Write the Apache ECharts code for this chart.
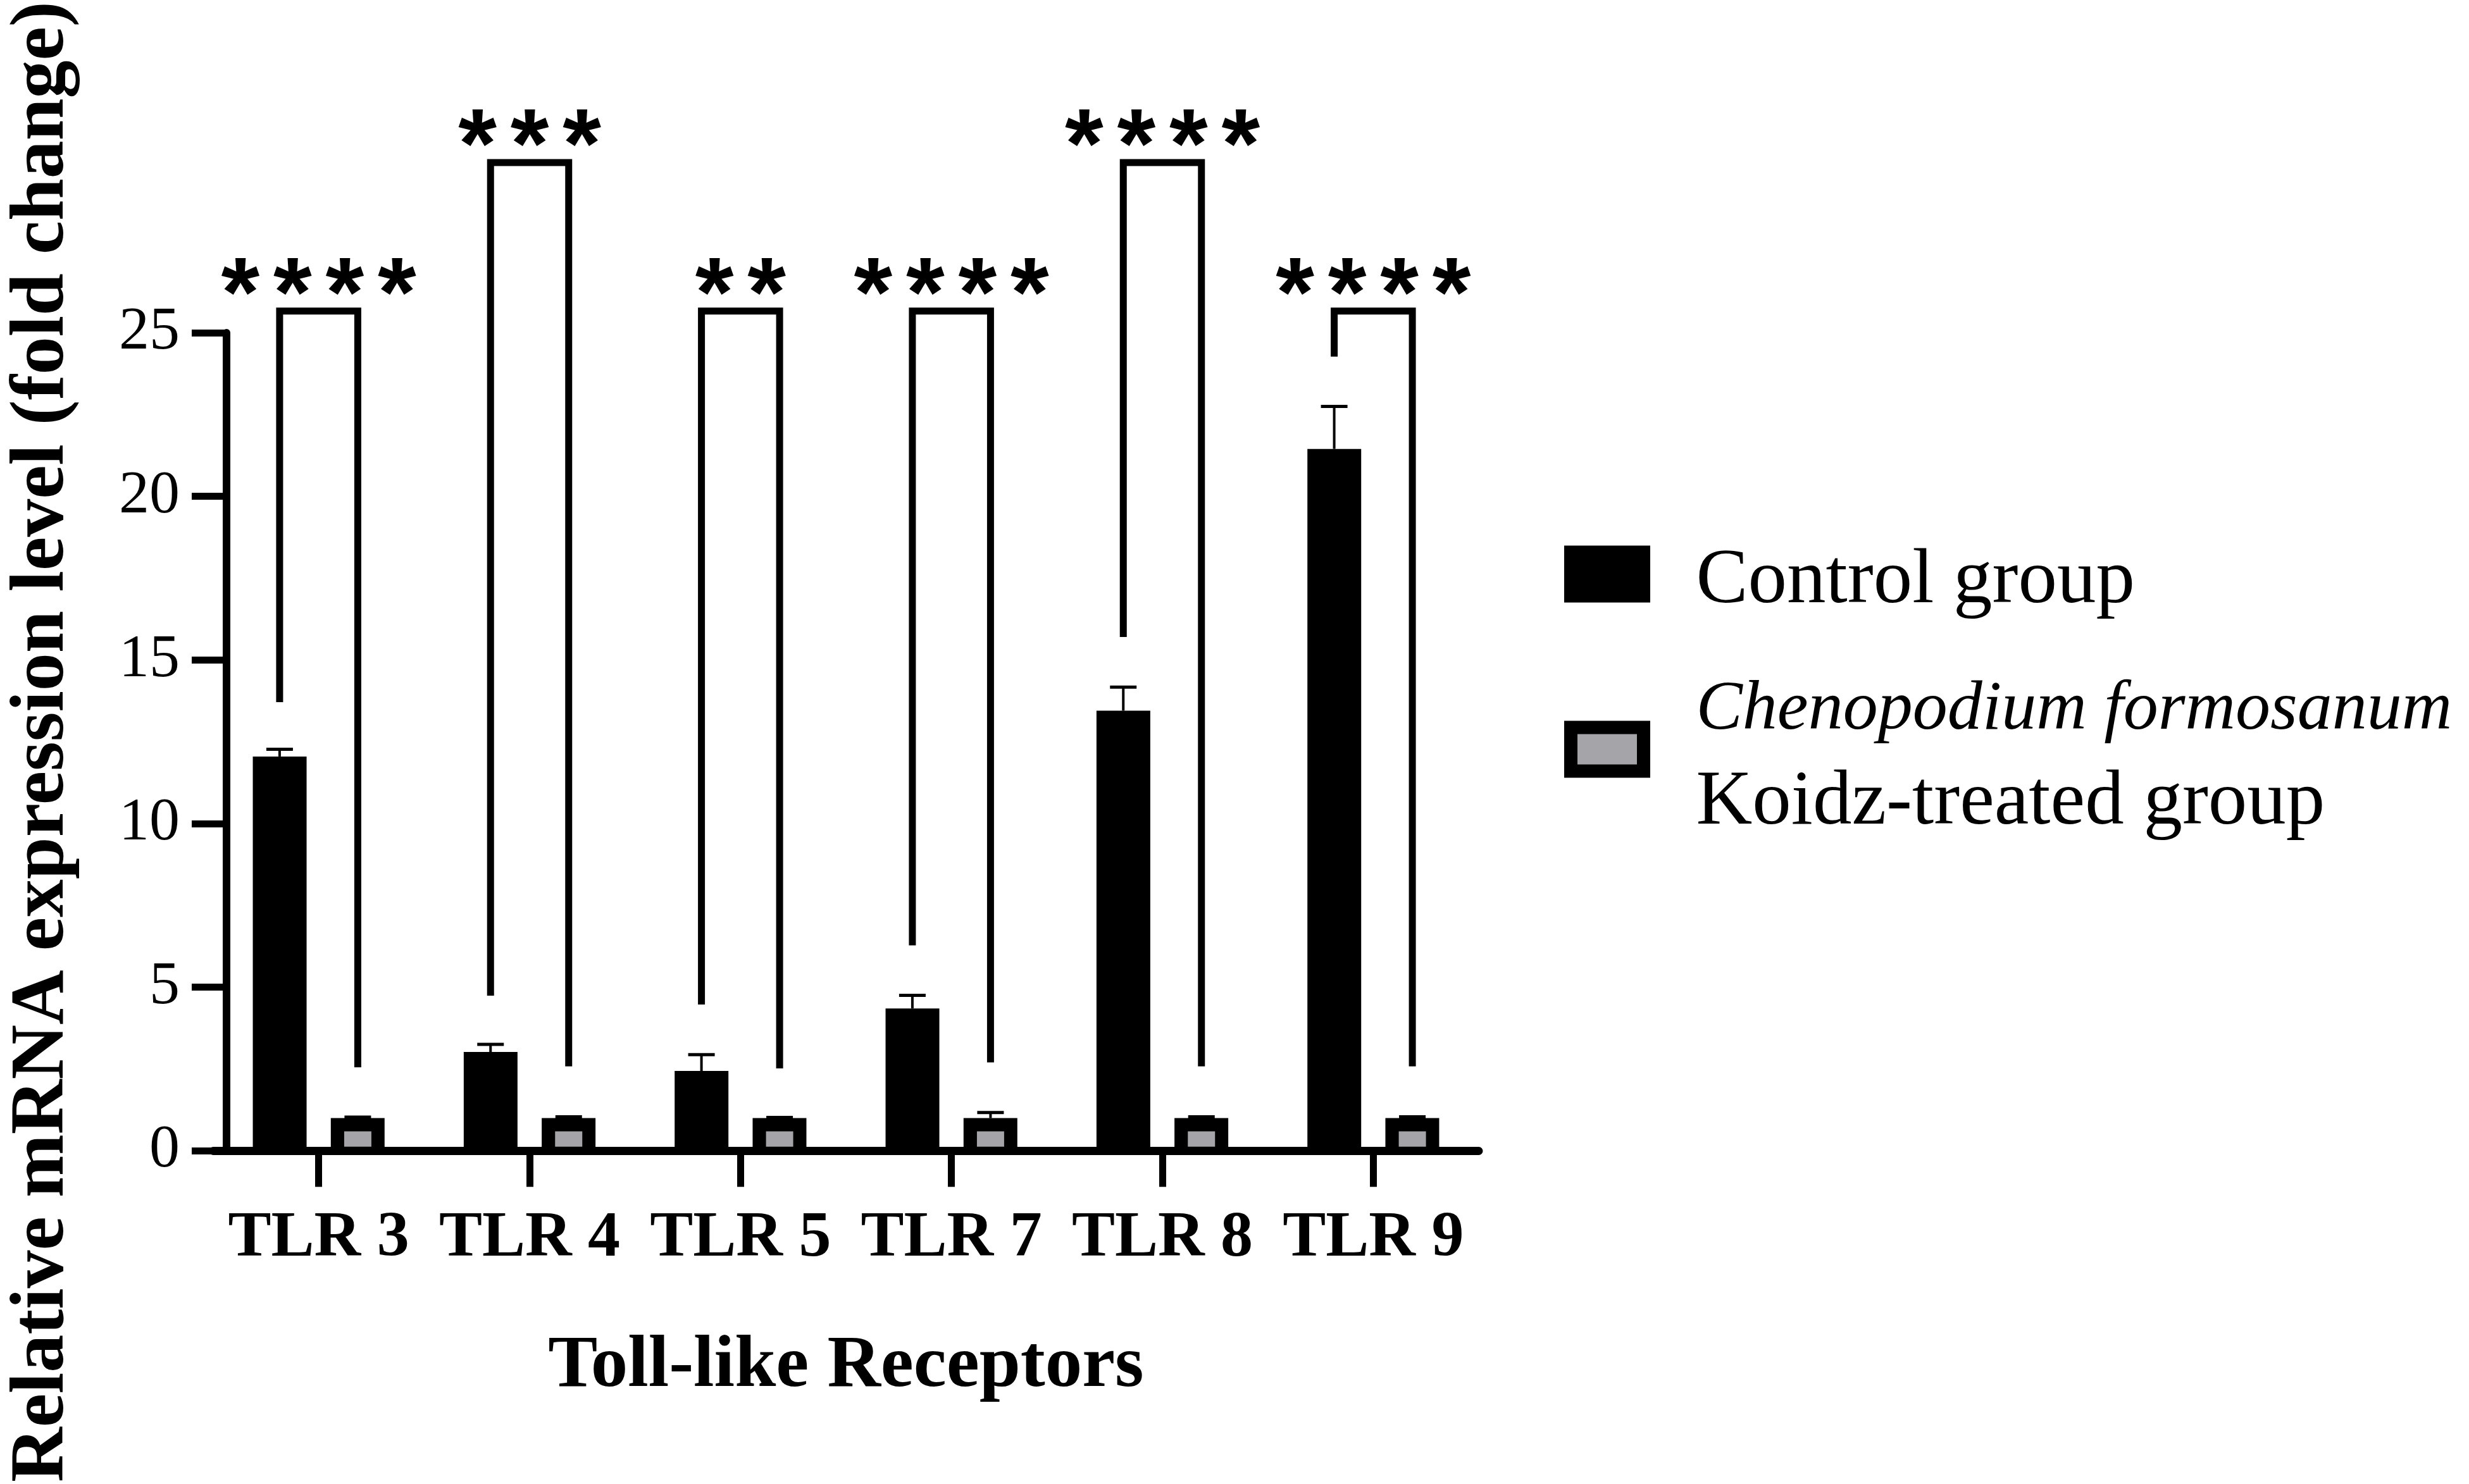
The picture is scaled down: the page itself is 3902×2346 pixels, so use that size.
<!DOCTYPE html>
<html><head><meta charset="utf-8">
<script src="https://cdn.jsdelivr.net/npm/echarts@6/dist/echarts.min.js"></script>
<style>html,body{margin:0;padding:0;background:#fff}#c{width:3902px;height:2346px}</style>
</head><body><div id="c"></div>
<script>
const categories = ['TLR 3', 'TLR 4', 'TLR 5', 'TLR 7', 'TLR 8', 'TLR 9'];
const controlMean = [12.05, 3.02, 2.44, 4.35, 13.45, 21.45];
const controlErr = [0.22, 0.23, 0.5, 0.4, 0.72, 1.3];
const treatedMean = [1.0, 1.0, 1.0, 1.0, 1.0, 1.0];
const treatedErr = [0.03, 0.04, 0.02, 0.17, 0.04, 0.04];
const bracketTop = [25.66, 30.2, 25.66, 25.66, 30.2, 25.66];
const bracketLeftEnd = [13.71, 4.74, 4.47, 6.28, 15.7, 24.27];
const bracketRightEnd = [2.55, 2.58, 2.52, 2.7, 2.58, 2.58];
const stars = ['****', '***', '**', '****', '****', '****'];
const yTicks = [0, 5, 10, 15, 20, 25];
const seriesNames = ['Control group', 'Chenopodium formosanum Koidz-treated group'];

const SERIF = '"Liberation Serif", "Times New Roman", serif';
const GRAY = '#a5a5a9';
const OFF = 61.75;      // half distance between paired bar centres (px)
const BAR_W = 85;
const BORDER = 21;

const chart = echarts.init(document.getElementById('c'), null, {renderer: 'canvas'});

const errData = [];
controlMean.forEach((m, i) => errData.push([i, m, controlErr[i], -1]));
treatedMean.forEach((m, i) => errData.push([i, m, treatedErr[i], 1]));

const option = {
  backgroundColor: '#fff',
  animation: false,
  grid: {left: 331, width: 2006, top: 526, height: 1309, containLabel: false},
  legend: {
    orient: 'vertical',
    left: 2472, top: 858,
    padding: 0,
    itemGap: 87,
    itemWidth: 136 - BORDER, itemHeight: 90 - BORDER,
    data: [
      {name: seriesNames[0], icon: 'rect', itemStyle: {color: '#000', borderColor: '#000', borderWidth: BORDER}},
      {name: seriesNames[1], icon: 'rect', itemStyle: {color: GRAY, borderColor: '#000', borderWidth: BORDER}}
    ],
    formatter: function (name) {
      if (name === seriesNames[1]) return '{i|Chenopodium formosanum}\n{n|Koidz-treated group}';
      return '{n|' + name + '}';
    },
    textStyle: {
      color: '#000', fontFamily: SERIF, fontSize: 123, padding: [24, 0, 0, 78],
      rich: {
        i: {fontFamily: SERIF, fontStyle: 'italic', fontSize: 110, lineHeight: 147, color: '#000'},
        n: {fontFamily: SERIF, fontSize: 123, lineHeight: 147, color: '#000'}
      }
    },
    selectedMode: false
  },
  xAxis: {
    type: 'category',
    data: categories,
    boundaryGap: true,
    name: 'Toll-like Receptors',
    nameLocation: 'middle',
    nameGap: 283,
    nameTextStyle: {fontFamily: SERIF, fontWeight: 'bold', fontSize: 117, color: '#000'},
    axisLine: {show: true, lineStyle: {color: '#000', width: 13}},
    axisTick: {show: true, alignWithLabel: true, interval: 0, length: 57, lineStyle: {color: '#000', width: 11}},
    axisLabel: {interval: 0, margin: 88, fontFamily: SERIF, fontWeight: 'bold', fontSize: 102, color: '#000'},
    splitLine: {show: false}
  },
  yAxis: {
    type: 'value',
    min: yTicks[0], max: yTicks[yTicks.length - 1], interval: yTicks[1] - yTicks[0],
    offset: -21,
    name: 'Relative mRNA expression level (fold change)',
    nameLocation: 'middle',
    nameRotate: 90,
    nameGap: 230,
    nameTextStyle: {fontFamily: SERIF, fontWeight: 'bold', fontSize: 120, color: '#000'},
    axisLine: {show: true, lineStyle: {color: '#000', width: 12}},
    axisTick: {show: true, length: 55, lineStyle: {color: '#000', width: 11}},
    axisLabel: {margin: 74, fontFamily: SERIF, fontSize: 96, color: '#000'},
    splitLine: {show: false}
  },
  series: [
    {
      type: 'bar', name: seriesNames[0], data: controlMean,
      barWidth: BAR_W, barGap: '45%',
      itemStyle: {color: '#000'}, z: 2
    },
    {
      type: 'bar', name: seriesNames[1], data: treatedMean,
      barWidth: BAR_W, barGap: '45%',
      itemStyle: {color: '#000'}, z: 2
    },
    {
      // grey interior of the treated bars
      type: 'custom', z: 3, silent: true,
      data: treatedMean.map((v, i) => [i, v]),
      encode: {x: 0, y: 1},
      renderItem: function (params, api) {
        const i = api.value(0), v = api.value(1);
        const base = api.coord([i, 0]);
        const top = api.coord([i, v]);
        const xc = base[0] + OFF;
        const y1 = top[1] + BORDER;
        const y2 = base[1] - 6.5;
        return {
          type: 'rect',
          shape: {x: xc - BAR_W / 2 + BORDER, y: y1, width: BAR_W - 2 * BORDER, height: Math.max(0, y2 - y1)},
          style: {fill: GRAY}
        };
      }
    },
    {
      // error bars (upper only)
      type: 'custom', z: 4, silent: true,
      data: errData,
      encode: {x: 0, y: 1},
      renderItem: function (params, api) {
        const i = api.value(0), m = api.value(1), e = api.value(2), side = api.value(3);
        const p0 = api.coord([i, m]);
        const p1 = api.coord([i, m + e]);
        const x = p0[0] + side * OFF;
        return {
          type: 'group',
          children: [
            {type: 'line', shape: {x1: x, y1: p0[1], x2: x, y2: p1[1]}, style: {stroke: '#000', lineWidth: 4}},
            {type: 'line', shape: {x1: x - 21, y1: p1[1], x2: x + 21, y2: p1[1]}, style: {stroke: '#000', lineWidth: 5}}
          ]
        };
      }
    },
    {
      // significance brackets and stars
      type: 'custom', z: 5, silent: true, clip: false,
      data: categories.map((c, i) => [i, bracketTop[i], bracketLeftEnd[i], bracketRightEnd[i], stars[i].length]),
      encode: {x: 0, y: 1},
      renderItem: function (params, api) {
        const i = api.value(0);
        const yt = api.coord([i, api.value(1)])[1];
        const yl = api.coord([i, api.value(2)])[1];
        const yr = api.coord([i, api.value(3)])[1];
        const n = api.value(4);
        const xc = api.coord([i, 0])[0];
        const xl = xc - OFF, xr = xc + OFF;
        const children = [{
          type: 'polyline',
          shape: {points: [[xl, yl], [xl, yt], [xr, yt], [xr, yr]]},
          style: {stroke: '#000', lineWidth: 11, fill: null, lineJoin: 'miter', lineCap: 'butt'}
        }];
        for (let k = 0; k < n; k++) {
          children.push({
            type: 'text',
            x: xc + (k - (n - 1) / 2) * 82.5,
            y: yt - 20,
            style: {
              text: '*', fill: '#000',
              font: 'bold 156px "Liberation Sans", Arial, sans-serif',
              align: 'center', verticalAlign: 'middle',
              textAlign: 'center', textVerticalAlign: 'middle'
            }
          });
        }
        return {type: 'group', children: children};
      }
    }
  ]
};
chart.setOption(option);
</script>
</body></html>
